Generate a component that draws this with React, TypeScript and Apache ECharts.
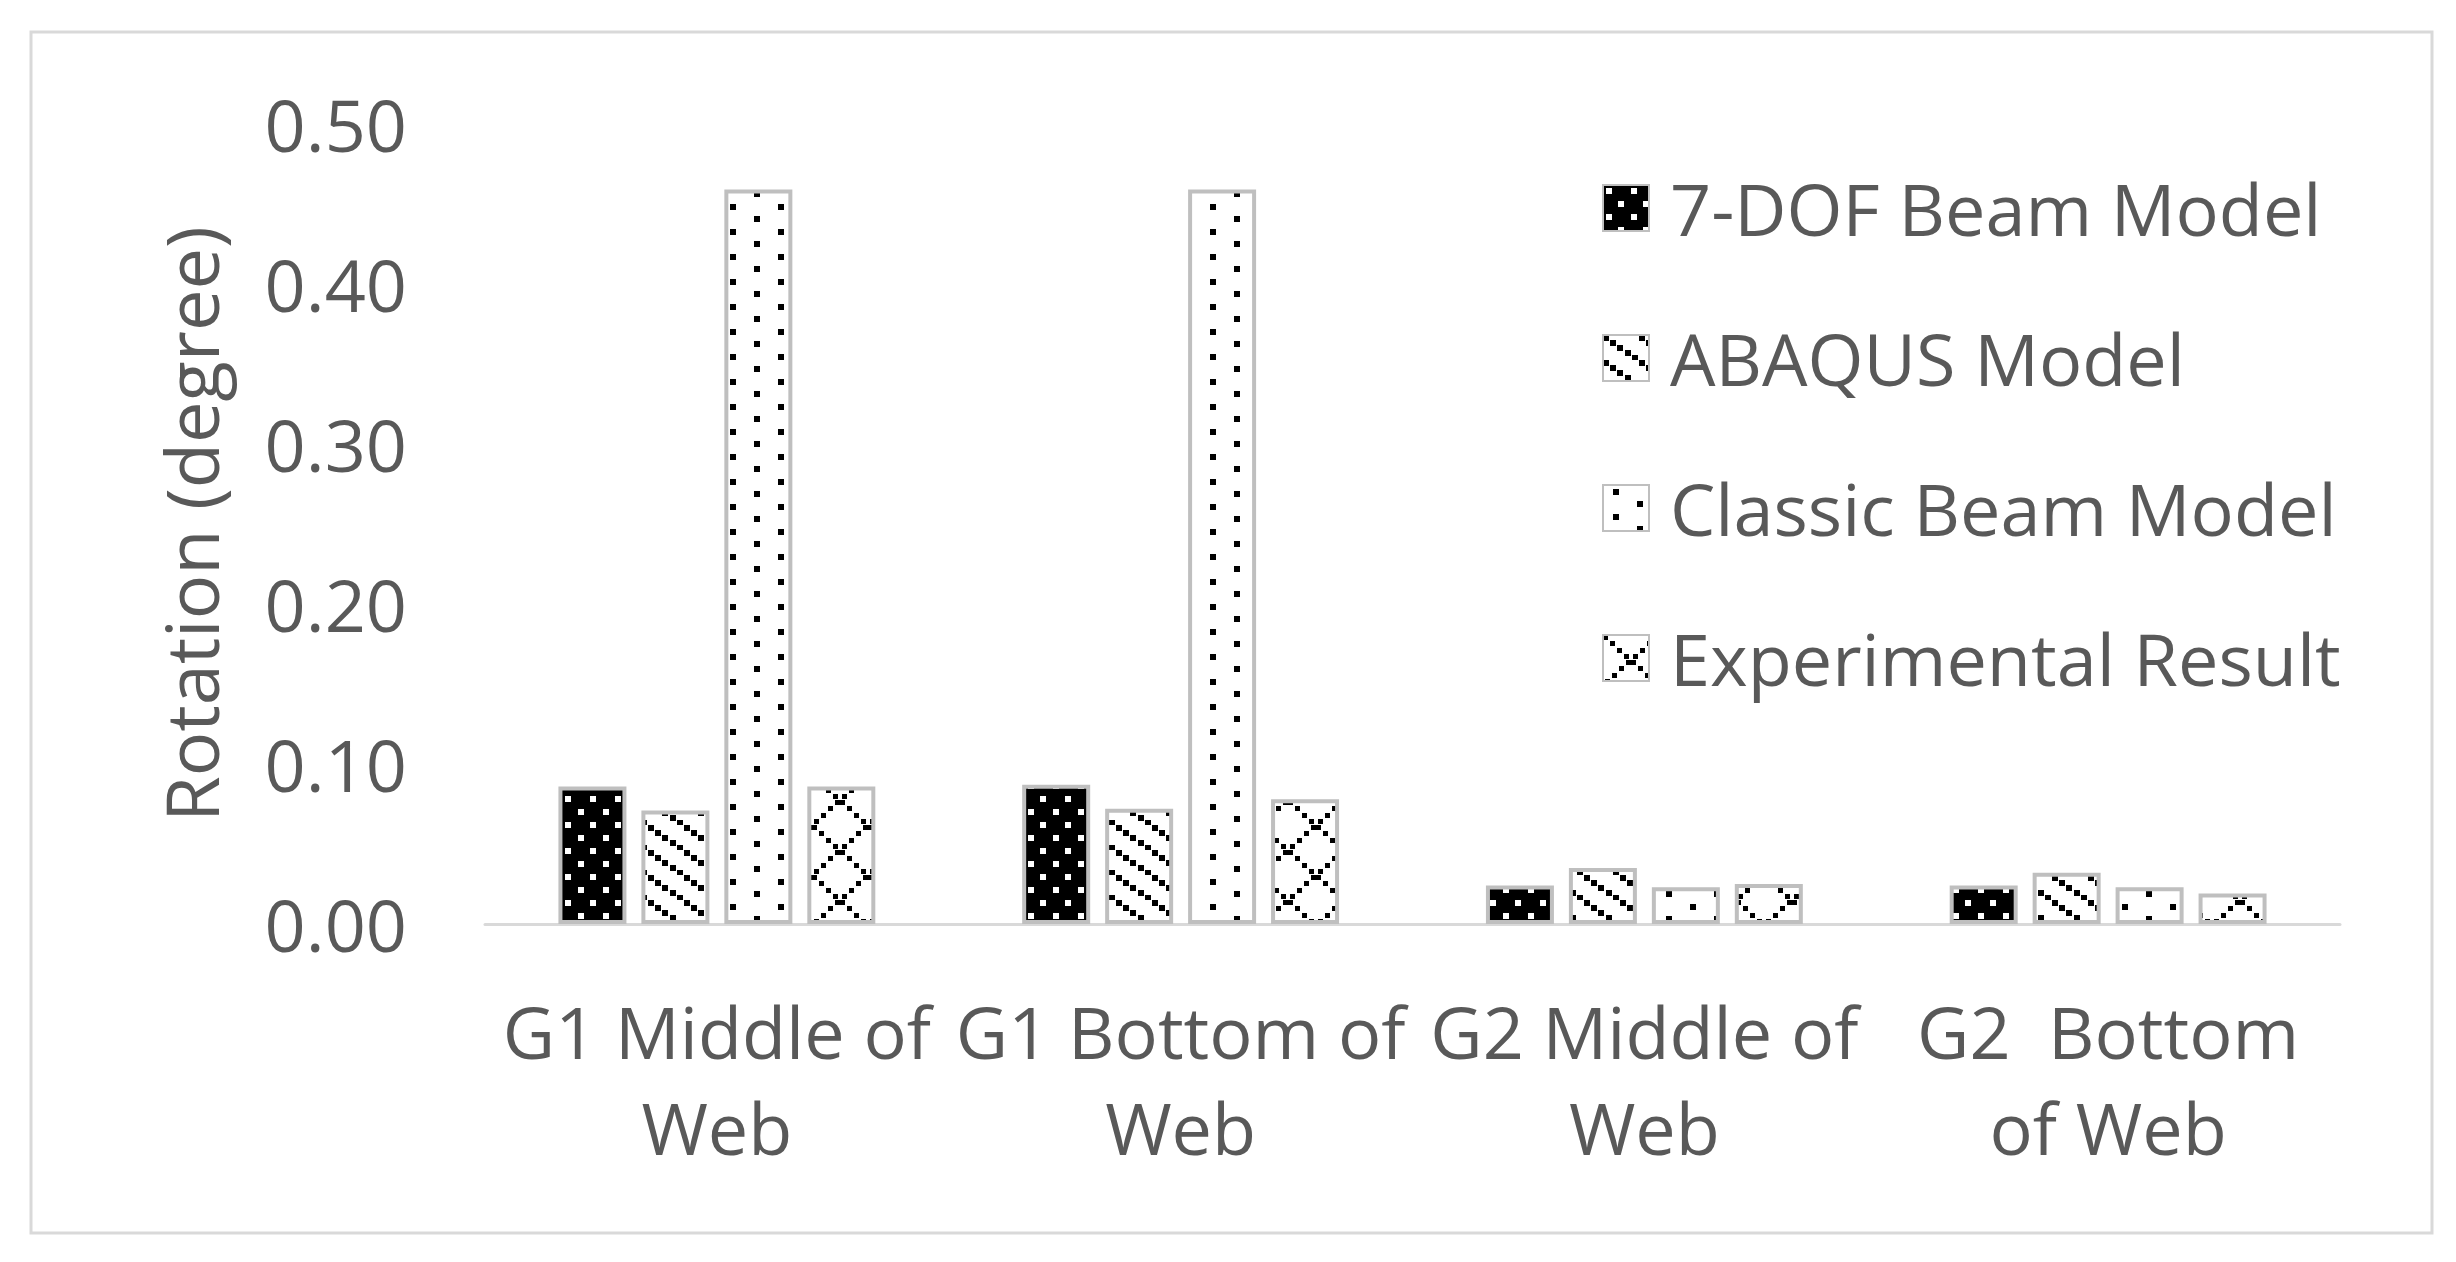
import React, { useEffect, useRef } from "react";
import * as echarts from "echarts";

const categories = ["G1 Middle of\nWeb", "G1 Bottom of\nWeb", "G2 Middle of\nWeb", "G2  Bottom\nof Web"];
const seriesNames = ["7-DOF Beam Model", "ABAQUS Model", "Classic Beam Model", "Experimental Result"];
const dof7Values = [0.086, 0.087, 0.024, 0.024];
const abaqusValues = [0.071, 0.072, 0.035, 0.032];
const classicValues = [0.459, 0.459, 0.023, 0.023];
const experimentalValues = [0.086, 0.078, 0.025, 0.019];
const yTickMin = 0;
const yTickMax = 0.5;
const yTickStep = 0.1;

const FONT = "'Open Sans', 'Noto Sans', sans-serif";
const TEXT = "#595959";
const BORDER = "#bfbfbf";

function makeTile(w: number, h: number, draw: (ctx: CanvasRenderingContext2D) => void) {
  const c = document.createElement("canvas");
  c.width = w;
  c.height = h;
  const ctx = c.getContext("2d")!;
  draw(ctx);
  return { image: c, repeat: "repeat", imageWidth: w, imageHeight: h } as any;
}

function patternDots() {
  return makeTile(50, 26, (ctx) => {
    ctx.fillStyle = "#000";
    ctx.fillRect(0, 0, 50, 26);
    ctx.fillStyle = "#fff";
    const pts = [[3, 3], [28, 3], [15, 16], [40, 16]];
    pts.forEach(([x, y]) => ctx.fillRect(x, y, 6, 6));
  });
}

function patternDiag() {
  return makeTile(36, 25, (ctx) => {
    ctx.fillStyle = "#fff";
    ctx.fillRect(0, 0, 36, 25);
    ctx.fillStyle = "#000";
    for (let k = 0; k < 5; k++) {
      const x = k * 7.2;
      const y = k * 5;
      ctx.fillRect(Math.round(x), Math.round(y), 6, 6);
    }
  });
}

function patternSparse() {
  return makeTile(48, 25, (ctx) => {
    ctx.fillStyle = "#fff";
    ctx.fillRect(0, 0, 48, 25);
    ctx.fillStyle = "#000";
    ctx.fillRect(10, 4, 6, 6);
    ctx.fillRect(34, 16, 6, 6);
  });
}

function patternLattice() {
  return makeTile(56, 50, (ctx) => {
    ctx.fillStyle = "#fff";
    ctx.fillRect(0, 0, 56, 50);
    ctx.fillStyle = "#000";
    for (let k = 0; k < 8; k++) {
      const x = k * 7;
      const y = k * 6.25;
      ctx.fillRect(Math.round(x), Math.round(y), 5, 5);
      ctx.fillRect(Math.round(56 - x - 5), Math.round(y), 5, 5);
    }
  });
}

export default function App() {
  const ref = useRef<HTMLDivElement>(null);
  useEffect(() => {
    if (!ref.current) return;
    const chart = echarts.init(ref.current, null, { renderer: "svg" });
    const patterns = [patternDots(), patternDiag(), patternSparse(), patternLattice()];
    const dataSets = [dof7Values, abaqusValues, classicValues, experimentalValues];
    chart.setOption({
      animation: false,
      backgroundColor: "#fff",
      graphic: [
        {
          type: "rect",
          shape: { x: 31, y: 32, width: 2401, height: 1201 },
          style: { fill: "none", stroke: "#d9d9d9", lineWidth: 3 },
          silent: true,
          z: -1,
        },
      ],
      grid: { left: 485, right: 116, top: 124, bottom: 338 },
      legend: {
        orient: "vertical",
        left: 1602,
        top: 168,
        padding: 0,
        itemWidth: 46,
        itemHeight: 46,
        itemGap: 70,
        itemTextGap: 18,
        icon: "rect",
        textStyle: {
          fontFamily: FONT,
          fontSize: 72,
          color: TEXT,
          lineHeight: 80,
          padding: [0, 0, 0, 16],
        },
        data: seriesNames,
      },
      xAxis: {
        type: "category",
        data: categories,
        axisLine: { lineStyle: { color: "#d9d9d9", width: 3 } },
        axisTick: { show: false },
        axisLabel: {
          interval: 0,
          margin: 59,
          fontFamily: FONT,
          fontSize: 72,
          color: TEXT,
          lineHeight: 96,
        },
      },
      yAxis: {
        type: "value",
        min: yTickMin,
        max: yTickMax,
        interval: yTickStep,
        name: "Rotation (degree)",
        nameLocation: "middle",
        nameGap: 258,
        nameRotate: 90,
        nameTextStyle: { fontFamily: FONT, fontSize: 74, color: TEXT },
        axisLine: { show: false },
        axisTick: { show: false },
        splitLine: { show: false },
        axisLabel: {
          margin: 78,
          fontFamily: FONT,
          fontSize: 72,
          color: TEXT,
          formatter: (v: number) => v.toFixed(2),
        },
      },
      series: seriesNames.map((name, i) => ({
        name,
        type: "bar",
        data: dataSets[i],
        barWidth: 68,
        barGap: "22%",
        itemStyle: { color: patterns[i], borderColor: BORDER, borderWidth: 4 },
      })),
    });
    return () => chart.dispose();
  }, []);
  return (
    <div
      ref={ref}
      style={{ position: "fixed", left: 0, top: 0, width: 2456, height: 1262 }}
    />
  );
}
